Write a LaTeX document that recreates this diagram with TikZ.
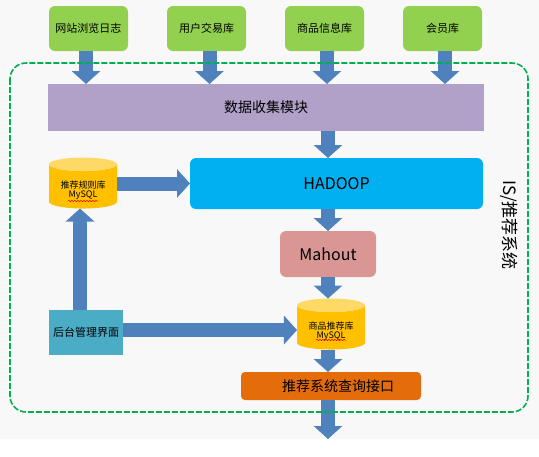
\documentclass[tikz,border=0pt]{standalone}
\usepackage{fontspec}
\setmainfont{Noto Sans CJK SC}
\usetikzlibrary{positioning, arrows.meta, shapes.geometric, decorations.pathmorphing}
\definecolor{pagegray}{HTML}{F8F8F8}
\definecolor{srcgreen}{HTML}{92D050}
\definecolor{collectpurple}{HTML}{B1A0C7}
\definecolor{hadoopblue}{HTML}{00B0F0}
\definecolor{mahoutred}{HTML}{D99694}
\definecolor{queryorange}{HTML}{E46C0A}
\definecolor{admincyan}{HTML}{4BACC6}
\definecolor{arrblue}{HTML}{4F81BD}
\definecolor{dbbody}{HTML}{FFC000}
\definecolor{dbtop}{HTML}{FFD966}
\definecolor{framegreen}{HTML}{00B050}
\newcommand{\fsize}[1]{\fontsize{#1pt}{#1pt}\selectfont}
\newcommand{\dbtext}[2]{\rule{0pt}{15pt}#1\\#2}
\tikzset{
  block/.style={inner sep=0pt, outer sep=0pt, align=center, text=black},
  src/.style={block, fill=srcgreen, rounded corners=6pt, minimum width=79pt, minimum height=45pt, font=\fsize{11}},
  stage/.style={block, font=\fsize{14}},
  dbase/.style={block, cylinder, shape border rotate=90, aspect=0.3, cylinder uses custom fill, cylinder body fill=dbbody, cylinder end fill=dbtop, minimum width=68pt, minimum height=51pt, font=\fsize{9}},
  arr/.style={-{Triangle[length=13pt, width=28pt]}, line width=14pt, draw=arrblue, fill=arrblue},
  frame/.style={draw=framegreen, line width=1.6pt, dash pattern=on 6pt off 2pt, rounded corners=16pt},
  spell/.style={draw=red, line width=0.5pt, decorate, decoration={snake, amplitude=0.7pt, segment length=3pt}}
}

\begin{document}
\begin{tikzpicture}[x=1pt, y=-1pt]
\useasboundingbox (0,0) rectangle (539,456);
\fill[pagegray] (0,0) rectangle (539,439);
% sources
\node[src] at (88.5,28.5) (web) {网站浏览日志};
\node[src, right=39pt of web] (user) {用户交易库};
\node[src, right=39pt of user] (goods) {商品信息库};
\node[src, right=39pt of goods] (member) {会员库};
% pipeline
\coordinate (out) at (328,439);
\node[stage, fill=collectpurple, minimum width=436pt, minimum height=47pt] at (266,107.5) (collect) {数据收集模块};
\node[stage, fill=hadoopblue, rounded corners=6pt, minimum width=293pt, minimum height=51pt, font=\fsize{16}] at (336.5,183.5) (hadoop) {HADOOP};
\node[stage, fill=mahoutred, rounded corners=6pt, minimum width=96pt, minimum height=46pt, font=\fsize{16}] at (328,254) (mahout) {Mahout};
\node[dbase] at (331,327.5) (goodsdb) {\dbtext{商品推荐库}{MySQL}};
\node[stage, fill=queryorange, rounded corners=4pt, minimum width=180pt, minimum height=28pt, text depth=0pt] at (331,386) (query) {\hspace{14pt}推荐系统查询接口};
% left column
\node[dbase] at (83,186.5) (rulesdb) {\dbtext{推荐规则库}{MySQL}};
\node[block, fill=admincyan, minimum width=74pt, minimum height=45pt, font=\fsize{11}] at (86,332.5) (admin) {后台管理界面};
\draw[spell] ([xshift=-15pt, yshift=-14.5pt]rulesdb.center) -- ([xshift=15pt, yshift=-14.5pt]rulesdb.center);
\draw[spell] ([xshift=-15pt, yshift=-12.5pt]goodsdb.center) -- ([xshift=15pt, yshift=-12.5pt]goodsdb.center);
\draw[arr] ([xshift=-2.5pt]web.south) -- ([xshift=-2.5pt]web.south |- collect.north);
\draw[arr] ([xshift=3pt]user.south) -- ([xshift=3pt]user.south |- collect.north);
\draw[arr] ([xshift=2.5pt]goods.south) -- ([xshift=2.5pt]goods.south |- collect.north);
\draw[arr] ([xshift=2.5pt]member.south) -- ([xshift=2.5pt]member.south |- collect.north);
\draw[arr] (collect.south -| out) -- (hadoop.north -| out);
\draw[arr] (hadoop.south -| out) -- (mahout.north -| out);
\draw[arr] (mahout.south -| out) -- (goodsdb.north -| out);
\draw[arr] (goodsdb.south -| out) -- (query.north -| out);
\draw[arr] (query.south -| out) -- (out);
\draw[arr] ([yshift=3pt]rulesdb.east) -- ([yshift=3pt]rulesdb.east -| hadoop.west);
\draw[arr] ([xshift=-6pt]admin.north) -- ([xshift=-6pt]admin.north |- rulesdb.south);
\draw[arr] ([yshift=2.5pt]admin.east) -- ([yshift=2.5pt]admin.east -| goodsdb.west);
% system frame
\draw[frame] (10,63) rectangle (528,412);
\node[block, rotate=-90, font=\fsize{17}] at (509,225) (sysname) {IS/推荐系统};
\end{tikzpicture}
\end{document}
